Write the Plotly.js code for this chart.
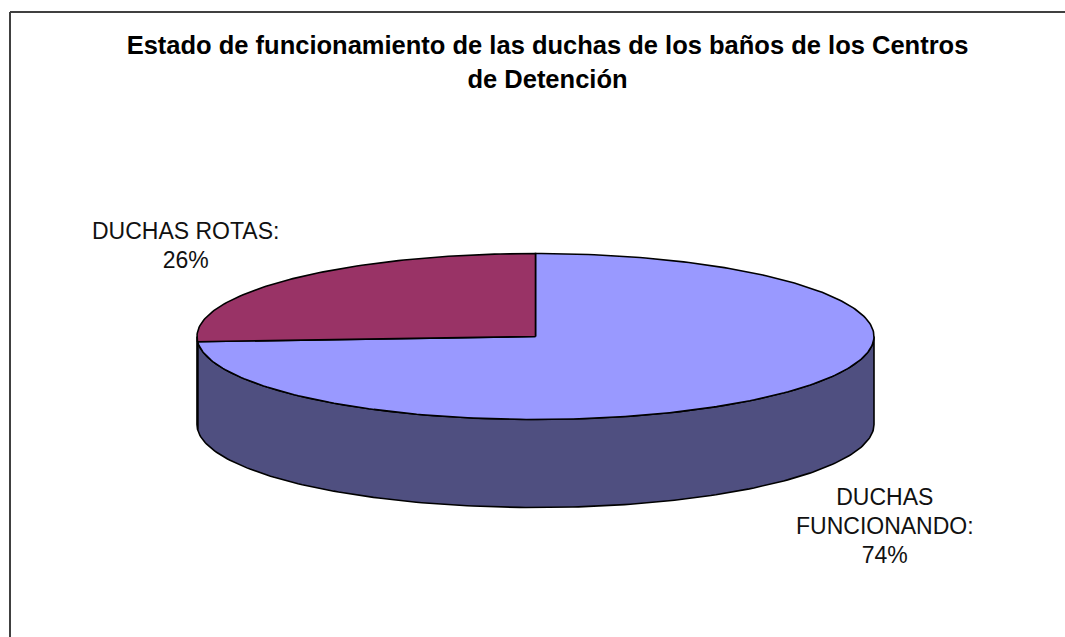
<!DOCTYPE html>
<html>
<head>
<meta charset="utf-8">
<script src="https://cdn.plot.ly/plotly-3.0.1.min.js"></script>
<style>html,body{margin:0;padding:0;background:#fff}#chart{width:1065px;height:637px}</style>
</head>
<body>
<div id="chart"></div>
<script>
var titleLines = ["Estado de funcionamiento de las duchas de los baños de los Centros", "de Detención"];
var sliceLabels = ["DUCHAS<br>FUNCIONANDO", "DUCHAS ROTAS"];
var sliceValues = [74, 26];
var sliceTopColors = ["#9999FF", "#993366"];
var sliceSideColors = ["#4F4F80", "#66223F"];

// 3D-pie projection
var cx = 535.5, cy = 336.5, rx = 338.5, ry = 83, depth = 88;
function ex(deg){ return cx + rx * Math.sin(deg * Math.PI / 180); }
function ey(deg, drop){ return cy - ry * Math.cos(deg * Math.PI / 180) + (drop || 0); }
function arc(a, b, drop){
  var xs = [], ys = [], n = Math.max(2, Math.ceil(Math.abs(b - a)));
  for (var i = 0; i <= n; i++){ var t = a + (b - a) * i / n; xs.push(ex(t)); ys.push(ey(t, drop)); }
  return {x: xs, y: ys};
}
var total = sliceValues.reduce(function(s, v){ return s + v; }, 0);
var traces = [], start = 0;
var sides = [], tops = [];
sliceValues.forEach(function(v, i){
  var end = start + 360 * v / total;
  var a = Math.max(start, 90), b = Math.min(end, 270);
  if (b > a){
    var t1 = arc(a, b, 0), t2 = arc(b, a, depth);
    sides.push({x: t1.x.concat(t2.x, [t1.x[0]]), y: t1.y.concat(t2.y, [t1.y[0]]), color: sliceSideColors[i]});
  }
  var t = arc(start, end, 0);
  tops.push({x: [cx].concat(t.x, [cx]), y: [cy].concat(t.y, [cy]), color: sliceTopColors[i], name: sliceLabels[i]});
  start = end;
});
sides.concat(tops).forEach(function(p){
  traces.push({type: "scatter", mode: "lines", x: p.x, y: p.y, fill: "toself", fillcolor: p.color,
    line: {color: "#000", width: 1.6}, hoverinfo: "skip", showlegend: false});
});

function sized(text, px){ return '<span style="font-size:' + px + 'px">' + text + '</span>'; }
function lines(text, px){ return text.split("<br>").map(function(l){ return sized(l, px); }).join("<br>"); }

var labelPos = [{x: 885, y: 526}, {x: 185.5, y: 245}];
var annotations = sliceLabels.map(function(lab, i){
  return {xref: "x", yref: "y", x: labelPos[i].x, y: labelPos[i].y, xanchor: "center", yanchor: "middle", showarrow: false,
    align: "center", font: {family: "Liberation Sans, Arial, sans-serif", size: 22.3, color: "#111"},
    text: lines(lab + ":<br>" + sliceValues[i] + "%", 23)};
});

var layout = {
  width: 1065, height: 637,
  margin: {l: 0, r: 0, t: 0, b: 0},
  paper_bgcolor: "#fff", plot_bgcolor: "#fff",
  showlegend: false,
  title: {
    text: titleLines.map(function(l){ return sized(l, 25.5); }).join("<br>"),
    font: {family: "Liberation Sans, Arial, sans-serif", size: 26.5, color: "#000", weight: "bold"},
    x: 547.5 / 1065, xref: "container", xanchor: "center",
    y: 1 - 54 / 637, yref: "container", yanchor: "top"
  },
  xaxis: {range: [0, 1065], visible: false, fixedrange: true},
  yaxis: {range: [637, 0], visible: false, fixedrange: true},
  annotations: annotations,
  shapes: [
    {type: "line", xref: "x", yref: "y", x0: 10, x1: 10, y0: 12, y1: 637, line: {color: "#404040", width: 2}},
    {type: "line", xref: "x", yref: "y", x0: 10, x1: 1065, y0: 12, y1: 12, line: {color: "#404040", width: 2}}
  ]
};
Plotly.newPlot("chart", traces, layout, {displayModeBar: false, staticPlot: true});
</script>
</body>
</html>
